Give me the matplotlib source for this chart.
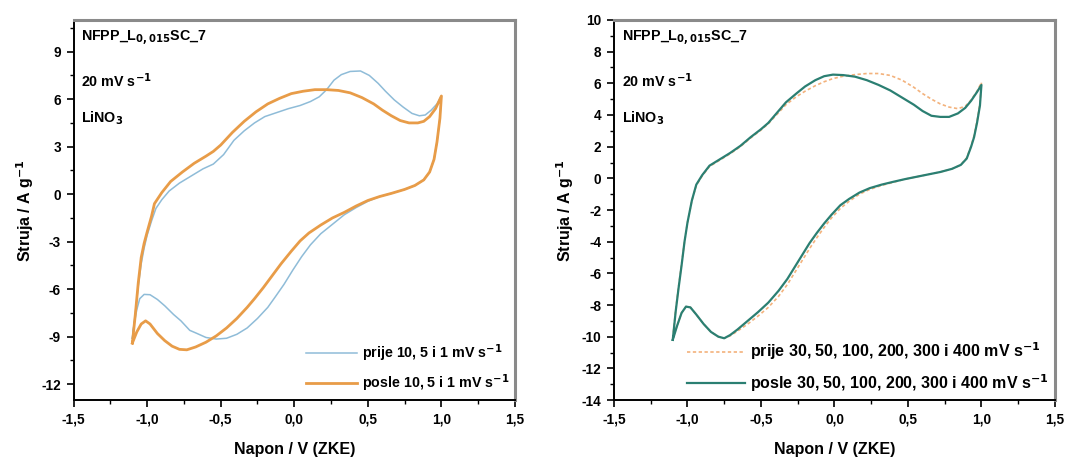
import matplotlib
matplotlib.use("Agg")
import matplotlib.pyplot as plt
from matplotlib.ticker import MultipleLocator, FuncFormatter

plt.rcParams['font.family'] = ['Liberation Sans', 'DejaVu Sans']
plt.rcParams['font.weight'] = 'bold'
plt.rcParams['axes.unicode_minus'] = False
plt.rcParams['mathtext.default'] = 'bf'

# ---------------- Left panel data (10, 5, 1 mV/s) ----------------
# prije (before) - anodic then cathodic branch
prije_L_x = [-1.10, -1.08, -1.06, -1.04, -1.02, -1.00, -0.97, -0.94, -0.90, -0.85, -0.78, -0.70,
             -0.62, -0.55, -0.48, -0.41, -0.34, -0.27, -0.20, -0.12, -0.04, 0.04, 0.11, 0.17,
             0.22, 0.27, 0.32, 0.38, 0.45, 0.51, 0.57, 0.62, 0.68, 0.74, 0.80, 0.85, 0.89,
             0.93, 0.97, 1.00,
             0.99, 0.97, 0.95, 0.92, 0.88, 0.82, 0.75, 0.66, 0.58, 0.50, 0.42, 0.34, 0.26,
             0.18, 0.11, 0.05, -0.01, -0.07, -0.13, -0.18, -0.25, -0.32, -0.39, -0.46, -0.53,
             -0.60, -0.66, -0.71, -0.77, -0.82, -0.88, -0.93, -0.98, -1.02, -1.05, -1.07,
             -1.09, -1.10]
prije_L_y = [-9.1, -7.5, -5.8, -4.4, -3.4, -2.6, -1.7, -0.9, -0.35, 0.2, 0.7, 1.15,
             1.6, 1.9, 2.5, 3.4, 4.0, 4.5, 4.9, 5.15, 5.4, 5.6, 5.85, 6.15,
             6.6, 7.2, 7.55, 7.75, 7.78, 7.5, 7.0, 6.5, 5.95, 5.5, 5.1, 4.95, 5.0,
             5.3, 5.7, 6.2,
             4.8, 3.3, 2.2, 1.4, 0.9, 0.55, 0.3, 0.05, -0.15, -0.45, -0.85, -1.3, -1.9,
             -2.5, -3.2, -3.95, -4.8, -5.7, -6.5, -7.15, -7.85, -8.45, -8.85, -9.1, -9.15,
             -9.05, -8.8, -8.6, -8.0, -7.6, -7.05, -6.65, -6.35, -6.33, -6.6, -7.3,
             -8.3, -9.1]

# posle (after)
posle_L_x = [-1.10, -1.08, -1.06, -1.04, -1.02, -1.00, -0.97, -0.95, -0.90, -0.84, -0.76, -0.68,
             -0.60, -0.55, -0.50, -0.42, -0.34, -0.26, -0.18, -0.10, -0.02, 0.06, 0.14, 0.22,
             0.30, 0.38, 0.46, 0.54, 0.60, 0.66, 0.72, 0.78, 0.84, 0.88, 0.92, 0.96, 1.00,
             0.99, 0.97, 0.95, 0.92, 0.88, 0.82, 0.75, 0.66, 0.58, 0.50, 0.42, 0.34, 0.26,
             0.18, 0.10, 0.04, -0.02, -0.09, -0.15, -0.21, -0.27, -0.32, -0.39, -0.46, -0.53,
             -0.60, -0.67, -0.73, -0.78, -0.83, -0.88, -0.93, -0.98, -1.01, -1.04, -1.07, -1.10]
posle_L_y = [-9.4, -7.6, -5.6, -4.0, -3.1, -2.4, -1.4, -0.6, 0.1, 0.8, 1.4, 1.95,
             2.4, 2.7, 3.1, 3.9, 4.6, 5.2, 5.7, 6.05, 6.35, 6.5, 6.6, 6.6,
             6.55, 6.4, 6.1, 5.7, 5.3, 4.95, 4.65, 4.5, 4.5, 4.6, 4.9, 5.4, 6.2,
             4.8, 3.3, 2.2, 1.4, 0.9, 0.55, 0.3, 0.05, -0.15, -0.4, -0.75, -1.15, -1.5,
             -1.95, -2.45, -2.95, -3.6, -4.4, -5.15, -5.9, -6.6, -7.15, -7.85, -8.45, -8.95,
             -9.35, -9.65, -9.83, -9.8, -9.6, -9.25, -8.8, -8.2, -8.0, -8.2, -8.7, -9.4]

# ---------------- Right panel data (30 ... 400 mV/s) ----------------
prije_R_x = [-1.10, -1.08, -1.06, -1.04, -1.02, -1.00, -0.97, -0.94, -0.90, -0.85, -0.78, -0.71,
             -0.64, -0.57, -0.50, -0.45, -0.39, -0.33, -0.26, -0.20, -0.13, -0.07, -0.01, 0.06,
             0.14, 0.22, 0.30, 0.38, 0.46, 0.54, 0.60, 0.66, 0.72, 0.78, 0.84, 0.89, 0.93,
             0.97, 1.00,
             0.99, 0.97, 0.95, 0.93, 0.90, 0.86, 0.80, 0.72, 0.64, 0.56, 0.48, 0.40, 0.32,
             0.24, 0.17, 0.10, 0.04, -0.02, -0.07, -0.12, -0.17, -0.22, -0.27, -0.32, -0.38,
             -0.45, -0.52, -0.59, -0.66, -0.71, -0.75, -0.79, -0.84, -0.89, -0.94, -0.98,
             -1.01, -1.04, -1.07, -1.10]
prije_R_y = [-10.1, -8.3, -6.8, -5.4, -4.0, -2.8, -1.4, -0.45, 0.15, 0.75, 1.15, 1.55,
             2.0, 2.55, 3.05, 3.45, 4.05, 4.65, 5.15, 5.5, 5.85, 6.1, 6.3, 6.45,
             6.55, 6.62, 6.62, 6.5, 6.2, 5.75, 5.35, 5.0, 4.7, 4.5, 4.4, 4.55, 4.95,
             5.5, 6.05,
             4.7, 3.6, 2.7, 2.05, 1.3, 0.85, 0.6, 0.4, 0.25, 0.1, -0.05, -0.25, -0.45,
             -0.7, -1.0, -1.45, -1.9, -2.5, -3.1, -3.75, -4.45, -5.2, -5.95, -6.7, -7.45,
             -8.15, -8.7, -9.2, -9.65, -9.95, -10.1, -10.0, -9.7, -9.2, -8.6, -8.15,
             -8.1, -8.5, -9.3, -10.1]

posle_R_x = [-1.10, -1.08, -1.06, -1.04, -1.02, -1.00, -0.97, -0.94, -0.90, -0.85, -0.78, -0.71,
             -0.64, -0.57, -0.50, -0.45, -0.39, -0.33, -0.26, -0.20, -0.13, -0.07, -0.01, 0.06,
             0.14, 0.22, 0.30, 0.38, 0.46, 0.54, 0.60, 0.66, 0.72, 0.78, 0.84, 0.89, 0.93,
             0.97, 1.00,
             0.99, 0.97, 0.95, 0.93, 0.90, 0.86, 0.80, 0.72, 0.64, 0.56, 0.48, 0.40, 0.32,
             0.24, 0.17, 0.10, 0.04, -0.02, -0.07, -0.12, -0.17, -0.22, -0.27, -0.32, -0.38,
             -0.45, -0.52, -0.59, -0.66, -0.71, -0.75, -0.79, -0.84, -0.89, -0.94, -0.98,
             -1.01, -1.04, -1.07, -1.10]
posle_R_y = [-10.2, -8.4, -6.9, -5.5, -4.0, -2.8, -1.4, -0.4, 0.2, 0.8, 1.2, 1.6,
             2.05, 2.6, 3.1, 3.5, 4.15, 4.8, 5.35, 5.8, 6.2, 6.45, 6.55, 6.52,
             6.42, 6.2, 5.9, 5.55, 5.1, 4.65, 4.25, 3.95, 3.88, 3.88, 4.1, 4.45, 4.9,
             5.45, 5.9,
             4.6, 3.5, 2.6, 2.0, 1.25, 0.85, 0.6, 0.4, 0.25, 0.1, -0.05, -0.22, -0.4,
             -0.62, -0.9, -1.3, -1.7, -2.3, -2.85, -3.45, -4.1, -4.85, -5.6, -6.35, -7.1,
             -7.85, -8.45, -9.0, -9.55, -9.9, -10.1, -10.0, -9.7, -9.2, -8.6, -8.15,
             -8.1, -8.5, -9.3, -10.2]

labels_L = [r"prije 10, 5 i 1 mV s$^{-1}$", r"posle 10, 5 i 1 mV s$^{-1}$"]
labels_R = [r"prije 30, 50, 100, 200, 300 i 400 mV s$^{-1}$",
            r"posle 30, 50, 100, 200, 300 i 400 mV s$^{-1}$"]
annot = [r"NFPP_L$_{0,015}$SC_7", r"20 mV s$^{-1}$", r"LiNO$_3$"]

xlabel = "Napon / V (ZKE)"
ylabel = r"Struja / A g$^{-1}$"

c_blue = "#8fbcd8"
c_orange = "#e89c48"
c_orange_light = "#f3b27c"
c_teal = "#2b7f72"

fig = plt.figure(figsize=(10.70, 4.66), dpi=100)
axL = fig.add_axes([0.0687, 0.1416, 0.4126, 0.8155])
axR = fig.add_axes([0.5738, 0.1416, 0.4121, 0.8155])

axL.plot(prije_L_x, prije_L_y, color=c_blue, lw=1.1, label=labels_L[0])
axL.plot(posle_L_x, posle_L_y, color=c_orange, lw=2.0, label=labels_L[1])

axR.plot(prije_R_x, prije_R_y, color=c_orange_light, lw=1.2, ls=(0, (2, 1.5)), label=labels_R[0])
axR.plot(posle_R_x, posle_R_y, color=c_teal, lw=1.6, label=labels_R[1])

comma = FuncFormatter(lambda v, p: ("%.1f" % v).replace(".", ","))

for ax, ylim, ymaj, ymin, lfs, hl in [(axL, (-13, 11), 3, 1.5, 10.3, 3.6),
                                      (axR, (-14, 10), 2, 1, 11.5, 3.6)]:
    ax.set_xlim(-1.5, 1.5)
    ax.set_ylim(*ylim)
    ax.xaxis.set_major_locator(MultipleLocator(0.5))
    ax.xaxis.set_minor_locator(MultipleLocator(0.25))
    ax.yaxis.set_major_locator(MultipleLocator(ymaj))
    ax.yaxis.set_minor_locator(MultipleLocator(ymin))
    ax.xaxis.set_major_formatter(comma)
    ax.tick_params(which='major', direction='out', length=5, width=1.2, labelsize=9.8, pad=4)
    ax.tick_params(which='minor', direction='out', length=3, width=1.0)
    ax.tick_params(top=False, right=False, which='both')
    for s in ['left', 'bottom']:
        ax.spines[s].set_linewidth(1.4)
        ax.spines[s].set_color('black')
    for s in ['top', 'right']:
        ax.spines[s].set_linewidth(2.2)
        ax.spines[s].set_color('#8a8a8a')
    ax.set_xlabel(xlabel, fontsize=11.5, fontweight='bold', labelpad=11)
    ax.set_ylabel(ylabel, fontsize=11.5, fontweight='bold', labelpad=4)
    for t, yy in zip(annot, [0.955, 0.84, 0.74]):
        ax.text(0.018, yy, t, transform=ax.transAxes, fontsize=10.3, fontweight='bold',
                va='center', ha='left')
    ax.legend(loc='lower right', frameon=False, fontsize=lfs, handlelength=hl,
              labelspacing=0.6, borderaxespad=0.0, handletextpad=0.3)

fig.savefig("out.png", dpi=100)
